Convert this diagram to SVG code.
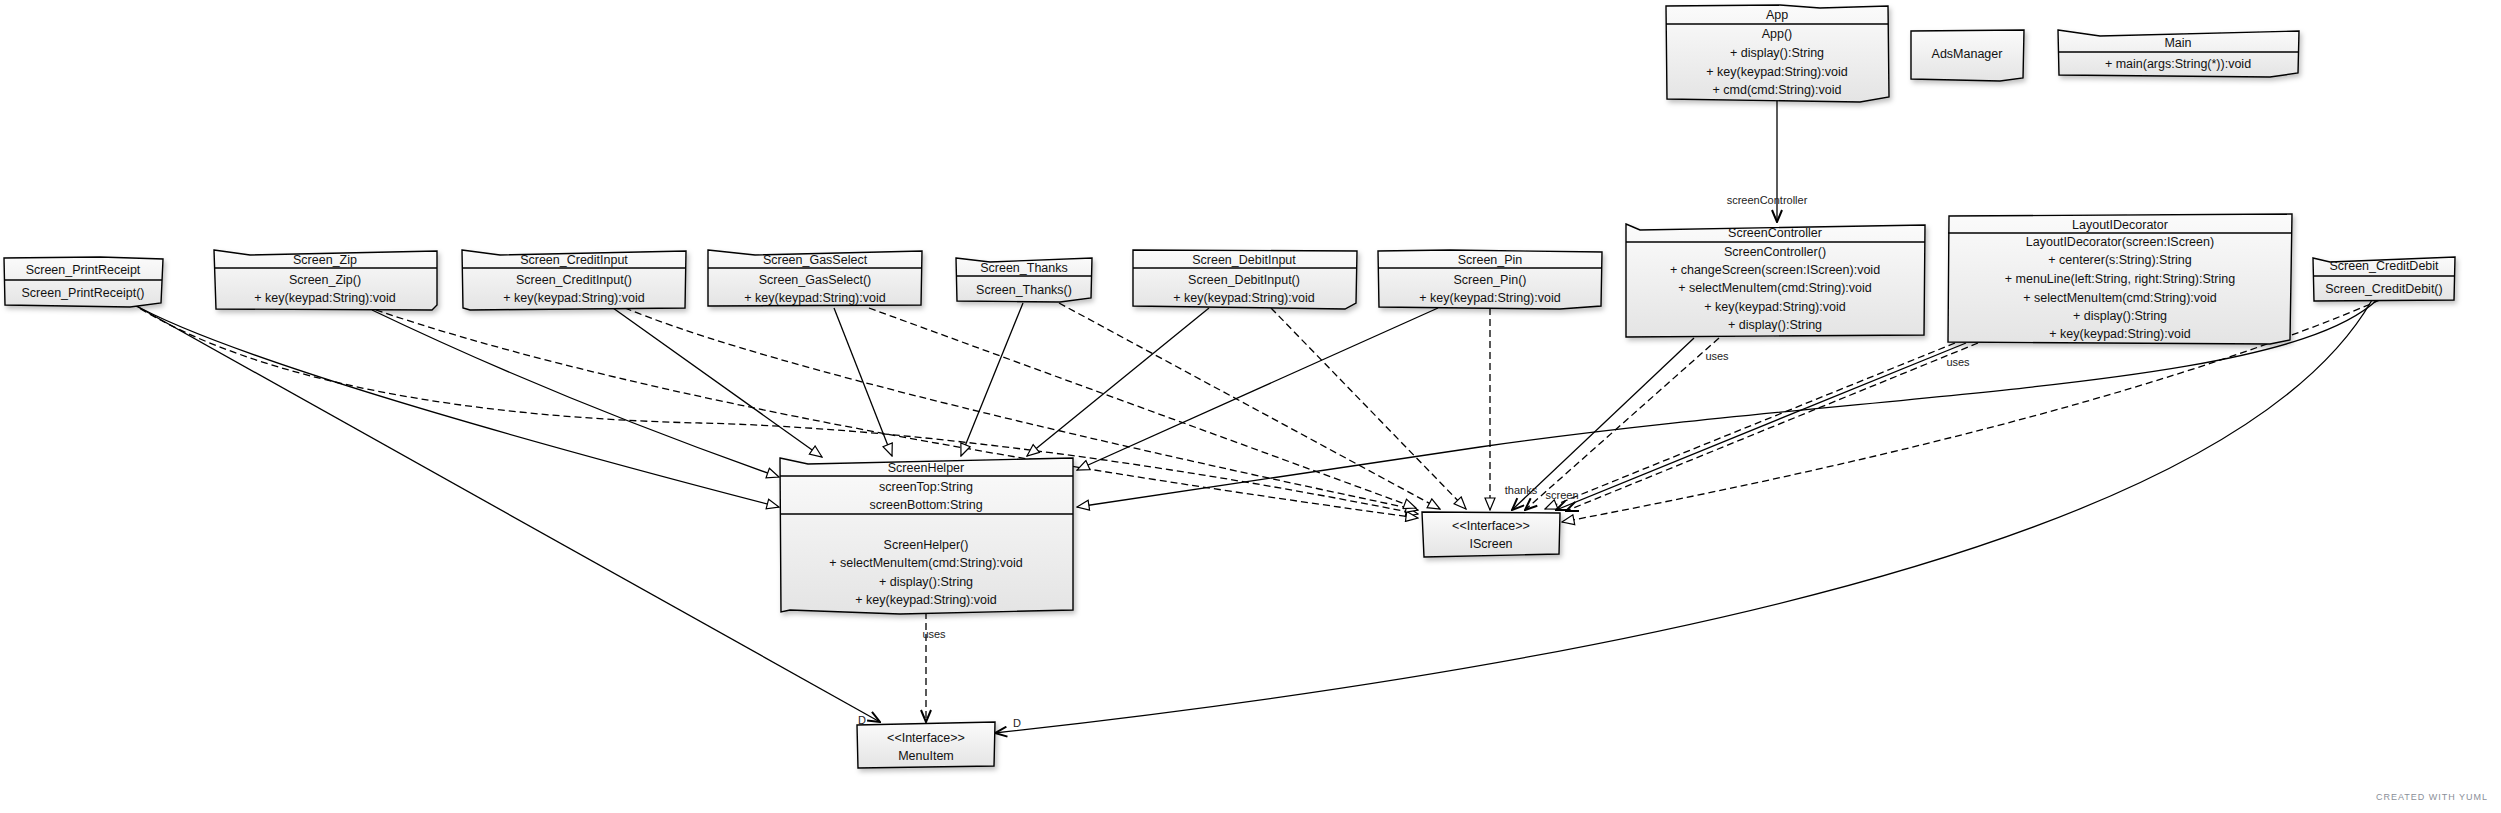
<svg xmlns="http://www.w3.org/2000/svg" width="2501" height="813" viewBox="0 0 2501 813">
<style>
.box{fill:url(#g);stroke:#000;stroke-width:1.4;filter:url(#sh)}
.div{stroke:#000;stroke-width:1.3;fill:none}
text{font-family:"Liberation Sans",Arial,sans-serif;font-size:12.5px;fill:#111;text-anchor:middle}
.lbl{font-size:11px;fill:#222}
.s{fill:none;stroke:#000;stroke-width:1.3}
.d{fill:none;stroke:#000;stroke-width:1.3;stroke-dasharray:7 4}
.wm{font-size:9px;fill:#8a8f99;letter-spacing:1px}
</style>
<defs>
<linearGradient id="g" x1="0" y1="0" x2="0" y2="1"><stop offset="0" stop-color="#fbfbfb"/><stop offset="1" stop-color="#e4e4e4"/></linearGradient>
<filter id="sh" x="-10%" y="-10%" width="130%" height="140%"><feDropShadow dx="2" dy="3" stdDeviation="2.5" flood-color="#000" flood-opacity="0.25"/></filter>
<marker id="tri" viewBox="0 0 14 12" refX="13" refY="6" markerWidth="14" markerHeight="12" markerUnits="userSpaceOnUse" orient="auto"><path d="M1,1 L13,6 L1,11 z" fill="#fff" stroke="#000" stroke-width="1.2"/></marker>
<marker id="vee" viewBox="0 0 14 12" refX="13" refY="6" markerWidth="14" markerHeight="12" markerUnits="userSpaceOnUse" orient="auto"><path d="M1,1 L13,6 L1,11" fill="none" stroke="#000" stroke-width="2"/></marker>
</defs>
<rect width="2501" height="813" fill="#fff"/>

<g id="connectors">
<path class="s" marker-end="url(#vee)" d="M1777,100 L1777,222"/>
<text class="lbl" x="1767" y="204">screenController</text>
<!-- PrintReceipt -->
<path class="s" marker-end="url(#tri)" d="M131,303 Q250,370 779,507"/>
<path class="d" marker-end="url(#tri)" d="M131,303 C260,385 480,418 700,423 S1200,470 1418,514"/>
<path class="s" marker-end="url(#vee)" d="M131,303 L880,722"/>
<!-- Zip -->
<path class="s" marker-end="url(#tri)" d="M372,310 Q560,400 779,477"/>
<path class="d" marker-end="url(#tri)" d="M376,310 Q700,420 1418,518"/>
<!-- CreditInput -->
<path class="s" marker-end="url(#tri)" d="M613,308 L822,457"/>
<path class="d" marker-end="url(#tri)" d="M625,308 Q800,380 1418,510"/>
<!-- GasSelect -->
<path class="s" marker-end="url(#tri)" d="M834,308 L892,456"/>
<path class="d" marker-end="url(#tri)" d="M869,308 L1416,508"/>
<!-- Thanks -->
<path class="s" marker-end="url(#tri)" d="M1023,303 L961,456"/>
<path class="d" marker-end="url(#tri)" d="M1059,303 L1440,509"/>
<!-- DebitInput -->
<path class="s" marker-end="url(#tri)" d="M1209,308 L1027,456"/>
<path class="d" marker-end="url(#tri)" d="M1271,308 L1466,509"/>
<!-- Pin -->
<path class="s" marker-end="url(#tri)" d="M1438,308 L1077,470"/>
<path class="d" marker-end="url(#tri)" d="M1490,308 L1490,510"/>
<!-- ScreenController -->
<path class="s" marker-end="url(#vee)" d="M1694,338 L1512,510"/>
<path class="d" marker-end="url(#vee)" d="M1719,338 L1525,510"/>
<text class="lbl" x="1717" y="360">uses</text>
<text class="lbl" x="1521" y="494">thanks</text>
<!-- LayoutIDecorator -->
<path class="d" marker-end="url(#tri)" d="M1955,343 L1545,509"/>
<path class="s" marker-end="url(#vee)" d="M1966,343 L1556,510"/>
<path class="d" marker-end="url(#vee)" d="M1978,343 L1566,511"/>
<text class="lbl" x="1958" y="366">uses</text>
<text class="lbl" x="1562" y="499">screen</text>
<!-- CreditDebit -->
<path class="d" marker-end="url(#tri)" d="M2380,300 Q2100,420 1562,522"/>
<path class="s" marker-end="url(#tri)" d="M2377,300 C2280,390 1880,390 1480,447 L1077,507"/>
<path class="s" marker-end="url(#vee)" d="M2372,300 Q2200,600 995,733"/>
<!-- ScreenHelper uses MenuItem -->
<path class="d" marker-end="url(#vee)" d="M926,612 L926,722"/>
<text class="lbl" x="934" y="638">uses</text>
<text class="lbl" x="862" y="724">D</text>
<text class="lbl" x="1017" y="727">D</text>
</g>

<g id="App">
<polygon class="box" points="1666,6 1780,5 1820,8 1888,6 1889,97 1860,102 1667,99"/>
<path class="div" d="M1666,24 L1888,24"/>
<text x="1777" y="19">App</text>
<text x="1777" y="38">App()</text>
<text x="1777" y="57">+ display():String</text>
<text x="1777" y="76">+ key(keypad:String):void</text>
<text x="1777" y="94">+ cmd(cmd:String):void</text>
</g>
<g id="AdsManager">
<polygon class="box" points="1911,31 2024,30 2023,78 2000,81 1911,79"/>
<text x="1967" y="58">AdsManager</text>
</g>
<g id="Main">
<polygon class="box" points="2058,30 2100,36 2299,31 2298,73 2270,77 2059,75"/>
<path class="div" d="M2058,52 L2299,52"/>
<text x="2178" y="47">Main</text>
<text x="2178" y="68">+ main(args:String(*)):void</text>
</g>
<g id="Screen_PrintReceipt">
<polygon class="box" points="4,258 100,257 163,259 161,303 130,307 5,305"/>
<path class="div" d="M4,280 L162,280"/>
<text x="83" y="274">Screen_PrintReceipt</text>
<text x="83" y="297">Screen_PrintReceipt()</text>
</g>
<g id="Screen_Zip">
<polygon class="box" points="214,250 250,255 437,251 437,305 432,310 216,309"/>
<path class="div" d="M214,268 L437,268"/>
<text x="325" y="264">Screen_Zip</text>
<text x="325" y="284">Screen_Zip()</text>
<text x="325" y="302">+ key(keypad:String):void</text>
</g>
<g id="Screen_CreditInput">
<polygon class="box" points="462,250 500,255 686,251 685,308 470,310 463,308"/>
<path class="div" d="M462,268 L686,268"/>
<text x="574" y="264">Screen_CreditInput</text>
<text x="574" y="284">Screen_CreditInput()</text>
<text x="574" y="302">+ key(keypad:String):void</text>
</g>
<g id="Screen_GasSelect">
<polygon class="box" points="708,250 755,255 922,251 921,305 708,306"/>
<path class="div" d="M708,268 L922,268"/>
<text x="815" y="264">Screen_GasSelect</text>
<text x="815" y="284">Screen_GasSelect()</text>
<text x="815" y="302">+ key(keypad:String):void</text>
</g>
<g id="Screen_Thanks">
<polygon class="box" points="956,258 990,262 1092,258 1091,298 1060,302 957,301"/>
<path class="div" d="M956,276 L1092,276"/>
<text x="1024" y="272">Screen_Thanks</text>
<text x="1024" y="294">Screen_Thanks()</text>
</g>
<g id="Screen_DebitInput">
<polygon class="box" points="1133,250 1357,251 1356,303 1345,309 1133,306"/>
<path class="div" d="M1133,268 L1357,268"/>
<text x="1244" y="264">Screen_DebitInput</text>
<text x="1244" y="284">Screen_DebitInput()</text>
<text x="1244" y="302">+ key(keypad:String):void</text>
</g>
<g id="Screen_Pin">
<polygon class="box" points="1378,251 1450,250 1602,252 1601,306 1560,309 1379,307"/>
<path class="div" d="M1378,268 L1602,268"/>
<text x="1490" y="264">Screen_Pin</text>
<text x="1490" y="284">Screen_Pin()</text>
<text x="1490" y="302">+ key(keypad:String):void</text>
</g>
<g id="ScreenController">
<polygon class="box" points="1626,224 1640,230 1925,225 1924,335 1626,337"/>
<path class="div" d="M1626,242 L1925,242"/>
<text x="1775" y="237">ScreenController</text>
<text x="1775" y="256">ScreenController()</text>
<text x="1775" y="274">+ changeScreen(screen:IScreen):void</text>
<text x="1775" y="292">+ selectMenuItem(cmd:String):void</text>
<text x="1775" y="311">+ key(keypad:String):void</text>
<text x="1775" y="329">+ display():String</text>
</g>
<g id="LayoutIDecorator">
<polygon class="box" points="1949,216 2292,214 2290,340 2270,344 1948,342"/>
<path class="div" d="M1948,233 L2292,233"/>
<text x="2120" y="229">LayoutIDecorator</text>
<text x="2120" y="246">LayoutIDecorator(screen:IScreen)</text>
<text x="2120" y="264">+ centerer(s:String):String</text>
<text x="2120" y="283">+ menuLine(left:String, right:String):String</text>
<text x="2120" y="302">+ selectMenuItem(cmd:String):void</text>
<text x="2120" y="320">+ display():String</text>
<text x="2120" y="338">+ key(keypad:String):void</text>
</g>
<g id="Screen_CreditDebit">
<polygon class="box" points="2313,258 2330,262 2455,257 2454,300 2314,301"/>
<path class="div" d="M2313,276 L2455,276"/>
<text x="2384" y="270">Screen_CreditDebit</text>
<text x="2384" y="293">Screen_CreditDebit()</text>
</g>
<g id="ScreenHelper">
<polygon class="box" points="780,458 808,464 1073,458 1073,610 900,614 790,610 781,612"/>
<path class="div" d="M780,476 L1073,476 M780,514 L1073,514"/>
<text x="926" y="472">ScreenHelper</text>
<text x="926" y="491">screenTop:String</text>
<text x="926" y="509">screenBottom:String</text>
<text x="926" y="549">ScreenHelper()</text>
<text x="926" y="567">+ selectMenuItem(cmd:String):void</text>
<text x="926" y="586">+ display():String</text>
<text x="926" y="604">+ key(keypad:String):void</text>
</g>
<g id="IScreen">
<polygon class="box" points="1422,512 1560,513 1559,554 1424,557"/>
<text x="1491" y="530">&lt;&lt;Interface&gt;&gt;</text>
<text x="1491" y="548">IScreen</text>
</g>
<g id="MenuItem">
<polygon class="box" points="857,725 995,722 994,766 858,768"/>
<text x="926" y="742">&lt;&lt;Interface&gt;&gt;</text>
<text x="926" y="760">MenuItem</text>
</g>
<text class="wm" x="2432" y="800">CREATED WITH YUML</text>
</svg>
